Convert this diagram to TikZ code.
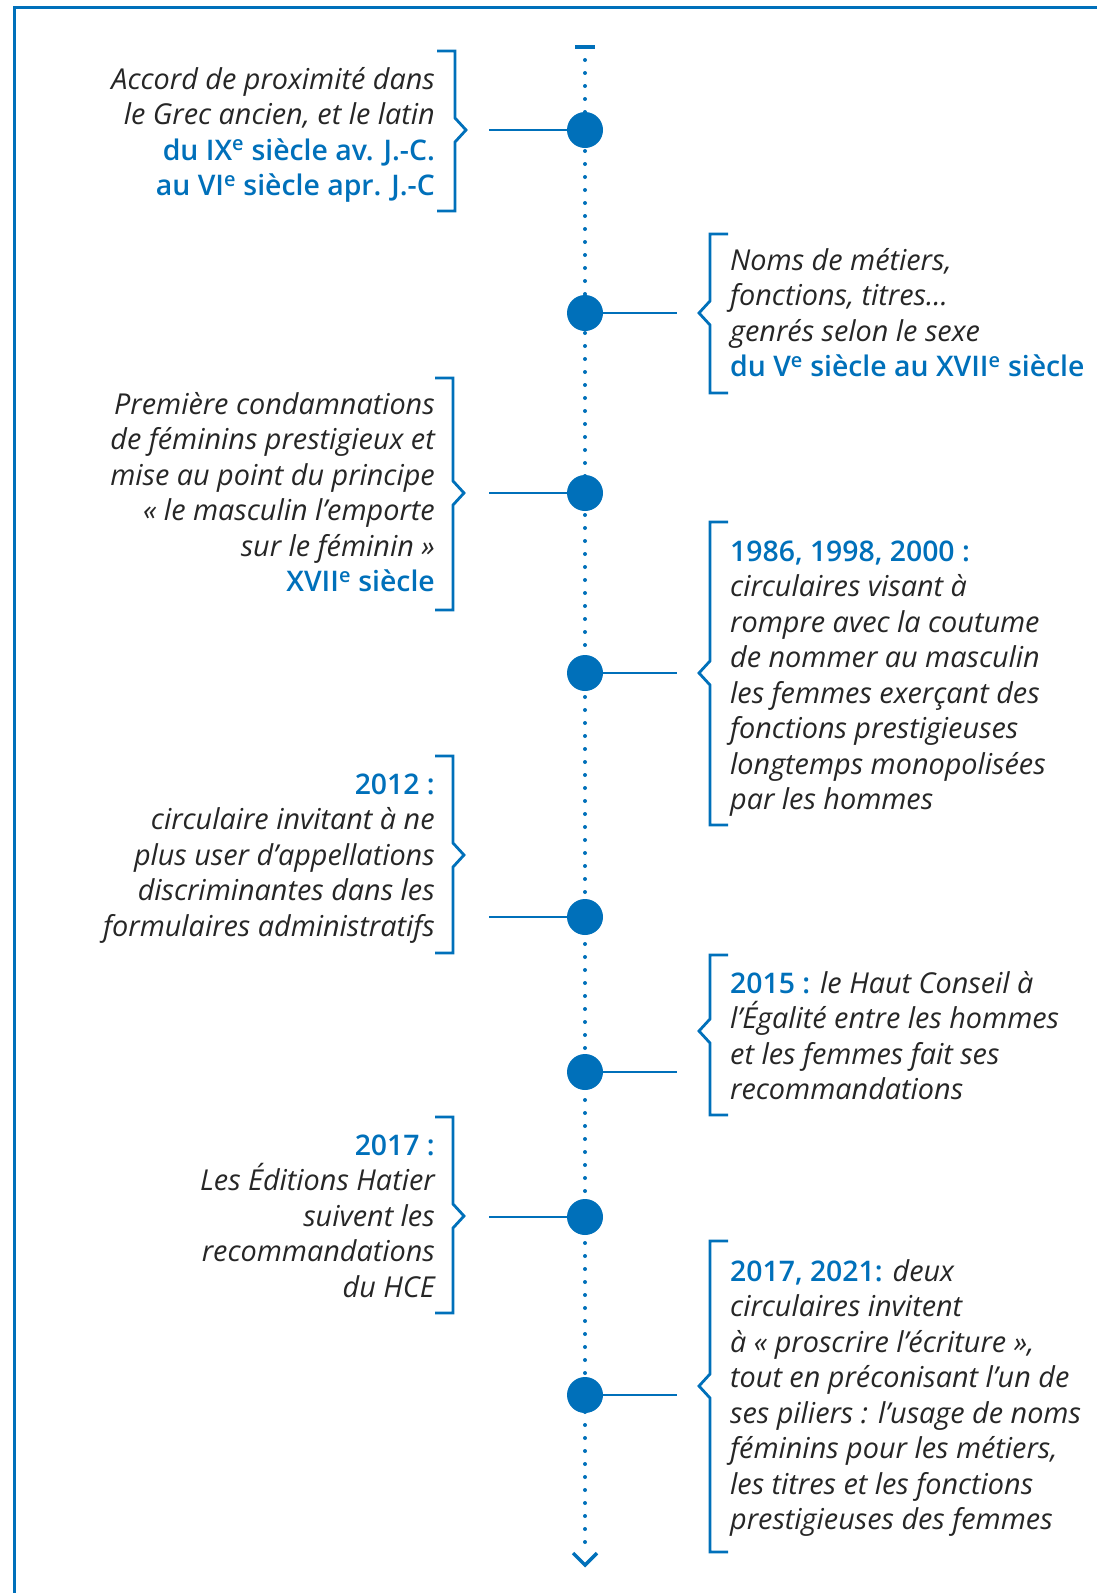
\documentclass[tikz,border=0pt]{standalone}
\usepackage{fontspec}
\setmainfont{Open Sans}
\IfFontExistsTF{Open Sans SemiBold}{\newfontfamily\semib{Open Sans SemiBold}\newcommand{\blsize}{\fontsize{28.4}{35.5}\selectfont}}{%
 \IfFontExistsTF{Open Sans Semibold}{\newfontfamily\semib{Open Sans Semibold}\newcommand{\blsize}{\fontsize{28.4}{35.5}\selectfont}}{%
  \IfFontExistsTF{OpenSans-SemiBold}{\newfontfamily\semib{OpenSans-SemiBold}\newcommand{\blsize}{\fontsize{28.4}{35.5}\selectfont}}{%
   \newcommand{\semib}{\bfseries}\newcommand{\blsize}{\fontsize{27.7}{35.5}\selectfont}}}}
\definecolor{tblue}{RGB}{0,112,186}
\definecolor{tdark}{RGB}{38,38,38}
\newcommand{\bl}[1]{{\color{tblue}\upshape\semib\blsize #1}}
\newcommand{\ex}{\textsuperscript{e}}
\begin{document}
\begin{tikzpicture}[x=1pt,y=-1pt,
  frame/.style={draw=tblue,line width=3pt},
  dotnode/.style={circle,fill=tblue,minimum size=36pt,inner sep=0pt},
  conn/.style={draw=tblue,line width=2.8pt},
  brace/.style={draw=tblue,line width=2.8pt},
  ltext/.style={anchor=base east,align=right,inner sep=0pt,text=tdark,font=\fontsize{28.8}{35.5}\selectfont\itshape},
  rtext/.style={anchor=base west,align=left,inner sep=0pt,text=tdark,font=\fontsize{28.8}{35.5}\selectfont\itshape}]
\useasboundingbox (0,0) rectangle (1097,1593);
\draw[frame] (14.5,1593) -- (14.5,7.5) -- (1097,7.5);
% axis
\coordinate (axtop) at (585,60);
\coordinate (axbot) at (585,1553);
\draw[tblue,line width=4pt] (575,47) -- (595,47);
\draw[tblue,line width=4pt,line cap=round,dash pattern=on 0pt off 13pt] (axtop) -- (axbot);
\draw[tblue,line width=3.5pt] (573,1553) -- (585,1565) -- (597,1553);
% dots
\node[dotnode] (d1) at (585,130) {};
\node[dotnode] (d2) at (585,313) {};
\node[dotnode] (d3) at (585,493) {};
\node[dotnode] (d4) at (585,673) {};
\node[dotnode] (d5) at (585,917) {};
\node[dotnode] (d6) at (585,1072) {};
\node[dotnode] (d7) at (585,1217) {};
\node[dotnode] (d8) at (585,1395) {};
% connector ends
\coordinate (c1) at (489,130);
\coordinate (c2) at (677,313);
\coordinate (c3) at (489,493);
\coordinate (c4) at (677,673);
\coordinate (c5) at (489,917);
\coordinate (c6) at (677,1072);
\coordinate (c7) at (489,1217);
\coordinate (c8) at (677,1395);
\draw[conn] (c1) -- (d1);
\draw[conn] (d2) -- (c2);
\draw[conn] (c3) -- (d3);
\draw[conn] (d4) -- (c4);
\draw[conn] (c5) -- (d5);
\draw[conn] (d6) -- (c6);
\draw[conn] (c7) -- (d7);
\draw[conn] (d8) -- (c8);
% left braces
\draw[brace] (437,51) -- (455,51) -- (455,118) -- (466,130) -- (455,142) -- (455,211) -- (437,211);
\draw[brace] (435,378) -- (453,378) -- (453,481) -- (464,493) -- (453,505) -- (453,610) -- (435,610);
\draw[brace] (435,756) -- (453,756) -- (453,843) -- (464,855) -- (453,867) -- (453,953) -- (435,953);
\draw[brace] (435,1117) -- (453,1117) -- (453,1204) -- (464,1216) -- (453,1228) -- (453,1313) -- (435,1313);
% right braces
\draw[brace] (728,234) -- (710,234) -- (710,301) -- (699,313) -- (710,325) -- (710,393) -- (728,393);
\draw[brace] (728,522) -- (710,522) -- (710,661) -- (699,673) -- (710,685) -- (710,825) -- (728,825);
\draw[brace] (728,955) -- (710,955) -- (710,1019) -- (699,1031) -- (710,1043) -- (710,1115) -- (728,1115);
\draw[brace] (728,1241) -- (710,1241) -- (710,1374) -- (699,1386) -- (710,1398) -- (710,1552) -- (728,1552);
% texts (anchor = baseline of last line)
\node[ltext] (t1) at (435,195.5) {Accord de proximité dans\\le Grec ancien, et le latin\\\bl{du IX\ex{} siècle av. J.-C.}\\\bl{au VI\ex{} siècle apr. J.-C}};
\node[rtext] (t2) at (730,376.5) {Noms de métiers,\\fonctions, titres…\\genrés selon le sexe\\\bl{du V\ex{} siècle au XVII\ex{} siècle}};
\node[ltext] (t3) at (435,591.5) {Première condamnations\\de féminins prestigieux et\\mise au point du principe\\« le masculin l’emporte\\sur le féminin »\\\bl{XVII\ex{} siècle}};
\node[rtext] (t4) at (730,809.5) {\bl{1986, 1998, 2000 :}\\circulaires visant à\\rompre avec la coutume\\de nommer au masculin\\les femmes exerçant des\\fonctions prestigieuses\\longtemps monopolisées\\par les hommes};
\node[ltext] (t5) at (435,936) {\bl{2012 :}\\circulaire invitant à ne\\plus user d’appellations\\discriminantes dans les\\formulaires administratifs};
\node[rtext] (t6) at (730,1099.5) {\bl{2015 :} le Haut Conseil à\\l’Égalité entre les hommes\\et les femmes fait ses\\recommandations};
\node[ltext] (t7) at (435,1297) {\bl{2017 :}\\Les Éditions Hatier\\suivent les\\recommandations\\du HCE};
\node[rtext] (t8) at (730,1529.5) {\bl{2017, 2021:} deux\\circulaires invitent\\à « proscrire l’écriture »,\\tout en préconisant l’un de\\ses piliers : l’usage de noms\\féminins pour les métiers,\\les titres et les fonctions\\prestigieuses des femmes};
\end{tikzpicture}
\end{document}
